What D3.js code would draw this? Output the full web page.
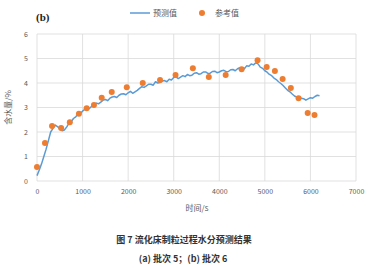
<!DOCTYPE html>
<html>
<head>
<meta charset="utf-8">
<script src="https://cdn.jsdelivr.net/npm/d3@7"></script>
<style>
  body { margin: 0; background: #fff; }
  text { font-family: "Noto Sans CJK SC", "Noto Sans", sans-serif; }
</style>
</head>
<body>
<div id="d3-container"></div>
<script>
// predicted moisture (blue line), every 50 s from 0 to 6200
const predTimes = d3.range(0, 6201, 50);
const predValues = [
  0.22, 0.45, 0.7, 1.0, 1.3, 1.65, 2.0, 2.15, 2.28, 2.22, 2.12, 2.05, 2.08, 2.2, 2.35, 2.42,
  2.55, 2.62, 2.72, 2.76, 2.85, 2.93, 2.98, 2.96, 3.05, 3.12, 3.18, 3.15, 3.22, 3.3, 3.33, 3.28,
  3.38, 3.43, 3.45, 3.41, 3.5, 3.55, 3.56, 3.52, 3.6, 3.66, 3.58, 3.64, 3.7, 3.78, 3.85, 3.82,
  3.88, 3.95, 3.95, 3.91, 4.05, 4.0, 4.02, 4.08, 4.1, 4.05, 4.15, 4.12, 4.22, 4.25, 4.18, 4.24,
  4.3, 4.26, 4.35, 4.3, 4.32, 4.4, 4.42, 4.36, 4.38, 4.45, 4.45, 4.39, 4.4, 4.47, 4.48, 4.42,
  4.45, 4.5, 4.52, 4.46, 4.47, 4.54, 4.55, 4.5, 4.58, 4.62, 4.62, 4.58, 4.7, 4.68, 4.78, 4.74,
  4.82, 4.78, 4.65, 4.6, 4.5, 4.44, 4.35, 4.3, 4.2, 4.14, 4.05, 3.98, 3.9, 3.8, 3.7, 3.64,
  3.55, 3.47, 3.42, 3.4, 3.38, 3.36, 3.3, 3.35, 3.4, 3.38, 3.45, 3.5, 3.48
];
// reference moisture (orange dots)
const refTimes = [0, 175, 330, 530, 720, 920, 1090, 1250, 1420, 1640, 1970, 2320, 2700,
  3040, 3420, 3770, 4140, 4490, 4840, 5040, 5220, 5390, 5570, 5740, 5940, 6090];
const refValues = [0.57, 1.55, 2.24, 2.16, 2.4, 2.75, 2.97, 3.1, 3.4, 3.63, 3.83, 4.0, 4.12,
  4.33, 4.6, 4.24, 4.33, 4.56, 4.93, 4.65, 4.49, 4.16, 3.8, 3.38, 2.78, 2.69];

const xTicks = [0, 1000, 2000, 3000, 4000, 5000, 6000, 7000];
const yTicks = [0, 1, 2, 3, 4, 5, 6];
const legendLabels = ["预测值", "参考值"];

const width = 375, height = 268;
const margin = { top: 34, right: 19, bottom: 87, left: 37 };
const blue = "#5b9bd5", orange = "#ed7d31", grey = "#595959";

const svg = d3.select("#d3-container").append("svg")
  .attr("width", width).attr("height", height);

const x = d3.scaleLinear().domain([0, 7000]).range([margin.left, width - margin.right]);
const y = d3.scaleLinear().domain([0, 6]).range([height - margin.bottom, margin.top]);

// grid
svg.append("g").selectAll("line").data(yTicks).join("line")
  .attr("x1", x(0)).attr("x2", x(7000))
  .attr("y1", d => y(d)).attr("y2", d => y(d))
  .attr("stroke", "#d9d9d9").attr("stroke-width", 0.8);
svg.append("g").selectAll("line").data(xTicks).join("line")
  .attr("x1", d => x(d)).attr("x2", d => x(d))
  .attr("y1", y(0)).attr("y2", y(6))
  .attr("stroke", "#d9d9d9").attr("stroke-width", 0.8);

// axes (labels only)
function xAxis(g) {
  g.attr("transform", `translate(0,${y(0)})`)
    .call(d3.axisBottom(x).tickValues(xTicks).tickFormat(d3.format("d")).tickSize(0).tickPadding(8))
    .call(g => g.select(".domain").remove());
  g.selectAll("text").attr("fill", grey).attr("font-size", "7px");
}
function yAxis(g) {
  g.attr("transform", `translate(${x(0)},0)`)
    .call(d3.axisLeft(y).tickValues(yTicks).tickFormat(d3.format("d")).tickSize(0).tickPadding(9))
    .call(g => g.select(".domain").remove());
  g.selectAll("text").attr("fill", grey).attr("font-size", "7px");
}
svg.append("g").call(xAxis);
svg.append("g").call(yAxis);

// predicted line
const line = d3.line().x((d, i) => x(predTimes[i])).y(d => y(d));
svg.append("path").datum(predValues)
  .attr("fill", "none").attr("stroke", blue).attr("stroke-width", 1.5)
  .attr("stroke-linejoin", "round")
  .attr("d", line);

// reference dots
svg.append("g").attr("fill", orange).selectAll("circle")
  .data(refValues).join("circle")
  .attr("cx", (d, i) => x(refTimes[i]))
  .attr("cy", d => y(d))
  .attr("r", 3);

// legend
svg.append("line").attr("x1", 130).attr("x2", 150).attr("y1", 13).attr("y2", 13)
  .attr("stroke", blue).attr("stroke-width", 1.5);
svg.append("text").attr("x", 153).attr("y", 16).text(legendLabels[0])
  .attr("font-size", "8px").attr("fill", grey);
svg.append("circle").attr("cx", 202).attr("cy", 13).attr("r", 3).attr("fill", orange);
svg.append("text").attr("x", 215).attr("y", 16).text(legendLabels[1])
  .attr("font-size", "8px").attr("fill", grey);

// panel label
svg.append("text").attr("x", 36).attr("y", 21).text("(b)")
  .style("font-family", "'Liberation Serif', 'DejaVu Serif', serif")
  .attr("font-weight", "bold").attr("font-size", "11px").attr("fill", "#222");

// axis titles
svg.append("text")
  .attr("transform", `translate(11,${y(3)}) rotate(-90)`)
  .attr("text-anchor", "middle").text("含水量/%")
  .attr("font-size", "8px").attr("fill", grey);
svg.append("text").attr("x", 197).attr("y", 211)
  .attr("text-anchor", "middle").text("时间/s")
  .attr("font-size", "8px").attr("fill", grey);

// caption
svg.append("text").attr("x", 184).attr("y", 243)
  .attr("text-anchor", "middle").text("图 7  流化床制粒过程水分预测结果")
  .attr("font-size", "9px").attr("font-weight", "bold").attr("fill", "#333");
svg.append("text").attr("x", 183).attr("y", 262)
  .attr("text-anchor", "middle").text("(a)  批次 5；(b)  批次 6")
  .attr("font-size", "9px").attr("font-weight", "bold").attr("fill", "#333");
</script>
</body>
</html>
